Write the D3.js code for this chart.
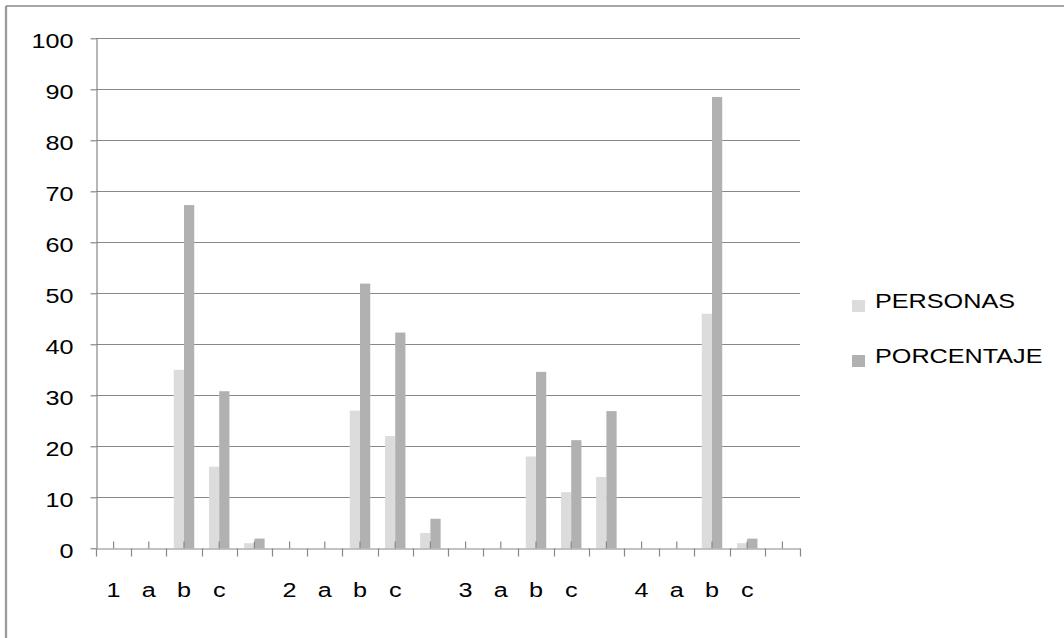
<!DOCTYPE html>
<html>
<head>
<meta charset="utf-8">
<script src="https://cdn.jsdelivr.net/npm/d3@7"></script>
<style>
  html, body { margin: 0; padding: 0; background: #ffffff; }
  svg { display: block; }
  text { font-family: "Liberation Sans", Arial, sans-serif; fill: #000; }
</style>
</head>
<body>
<svg id="chart" width="1064" height="638"></svg>
<script>
// ---- data ----
const categories = ["1","a","b","c","","2","a","b","c","","3","a","b","c","","4","a","b","c",""];
const seriesNames = ["PERSONAS", "PORCENTAJE"];
const personas   = [0,0,35,16,1,   0,0,27,22,3,   0,0,18,11,14,   0,0,46,1,0];
const porcentaje = [0,0,67.3,30.8,1.9, 0,0,51.9,42.3,5.8, 0,0,34.6,21.2,26.9, 0,0,88.5,1.9,0];
const yTicks = [0,10,20,30,40,50,60,70,80,90,100];

(function () {
// ---- layout ----
const colors = ["#dcdcdc", "#b1b1b1"];
const gridColor = "#888888";
const stretch = 1.2;
const fontSize = 21;

const svg = d3.select("#chart");
const mLeft = 96, mRight = 800, mTop = 38.3, mBottom = 548.3;

// outer frame
svg.append("line").attr("x1", 6).attr("x2", 6).attr("y1", 6).attr("y2", 638)
  .attr("stroke", "#9a9a9a").attr("stroke-width", 2.3);
svg.append("line").attr("x1", 6).attr("x2", 1064).attr("y1", 6).attr("y2", 6)
  .attr("stroke", "#8a8a8a").attr("stroke-width", 1.3);

const idx = d3.range(categories.length);
const x = d3.scaleBand().domain(idx).range([mLeft, mRight]).paddingInner(0).paddingOuter(0);
const x1 = d3.scaleBand().domain(seriesNames).range([0, x.bandwidth()]).paddingInner(0).paddingOuter(0.72);
const y = d3.scaleLinear().domain([0, 100]).range([mBottom, mTop]);

// gridlines
svg.append("g").selectAll("line").data(yTicks.filter(d => d > 0)).join("line")
  .attr("x1", mLeft).attr("x2", mRight)
  .attr("y1", d => Math.round(y(d)) + 0.5).attr("y2", d => Math.round(y(d)) + 0.5)
  .attr("stroke", gridColor).attr("stroke-width", 1.2);

// bars
const series = [personas, porcentaje];
const barG = svg.append("g");
series.forEach((vals, si) => {
  barG.selectAll(null).data(idx.filter(i => vals[i] > 0)).join("rect")
    .attr("x", i => x(i) + x1(seriesNames[si]))
    .attr("width", x1.bandwidth())
    .attr("y", i => y(vals[i]))
    .attr("height", i => y(0) - y(vals[i]))
    .attr("fill", colors[si]);
});

// y axis
const yAxis = svg.append("g")
  .attr("transform", `translate(${mLeft + 0.5},0)`)
  .call(d3.axisLeft(y).tickValues(yTicks).tickSize(6).tickSizeOuter(0).tickPadding(23));
yAxis.select(".domain").attr("stroke", gridColor).attr("stroke-width", 1.2);
yAxis.selectAll(".tick line").attr("stroke", gridColor).attr("stroke-width", 1.2);
yAxis.selectAll(".tick text")
  .attr("font-size", fontSize)
  .attr("font-family", "Liberation Sans, Arial, sans-serif")
  .attr("fill", "#000")
  .attr("x", -23 / stretch)
  .attr("dy", "0.42em")
  .attr("transform", `scale(${stretch},1)`);

// x axis: upward ticks at category centers, labels below
const xAxis = svg.append("g")
  .attr("transform", `translate(0,${Math.round(mBottom) + 0.5})`)
  .call(d3.axisBottom(x).tickFormat(i => categories[i]).tickSize(-7).tickSizeOuter(0).tickPadding(34));
xAxis.select(".domain").attr("stroke", gridColor).attr("stroke-width", 1.2);
xAxis.selectAll(".tick line").attr("stroke", gridColor).attr("stroke-width", 1.2);
xAxis.selectAll(".tick text")
  .attr("font-size", fontSize)
  .attr("font-family", "Liberation Sans, Arial, sans-serif")
  .attr("fill", "#000")
  .attr("transform", `scale(${stretch},1)`);

// downward ticks at category boundaries
const bounds = idx.map(i => x(i)).concat([x(idx[idx.length - 1]) + x.bandwidth()]);
xAxis.append("g").selectAll("line").data(bounds).join("line")
  .attr("x1", d => Math.round(d) + 0.5).attr("x2", d => Math.round(d) + 0.5)
  .attr("y1", 0).attr("y2", 8)
  .attr("stroke", gridColor).attr("stroke-width", 1.2);

// legend
const legend = svg.append("g");
seriesNames.forEach((name, i) => {
  const gy = 308 + i * 55;
  legend.append("rect").attr("x", 852).attr("y", gy - 8).attr("width", 13).attr("height", 12)
    .attr("fill", colors[i]);
  legend.append("text")
    .attr("transform", `translate(875,${gy}) scale(${stretch},1)`)
    .attr("font-size", fontSize)
    .text(name);
});
})();
</script>
</body>
</html>
